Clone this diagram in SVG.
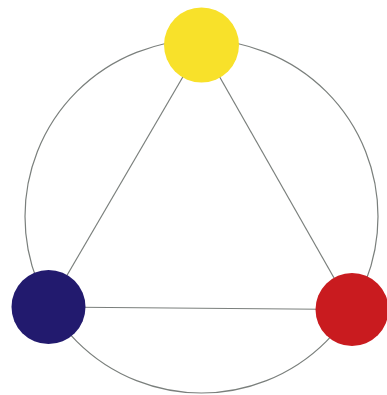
<svg xmlns="http://www.w3.org/2000/svg" width="387" height="395" viewBox="0 0 387 395">
<style>
.ln{stroke:#7a7f7c;stroke-width:1.2;fill:none}
</style>
<rect width="387" height="395" fill="#ffffff"/>
<g id="connectors">
<circle class="ln" cx="201.5" cy="216.5" r="176.5"/>
<line class="ln" x1="201.5" y1="45" x2="48.5" y2="307"/>
<line class="ln" x1="201.5" y1="45" x2="352" y2="309.5"/>
<line class="ln" x1="48.5" y1="307" x2="352" y2="309.5"/>
</g>
<g id="yellow"><circle cx="201.5" cy="45" r="37.5" fill="#f8e12a"/></g>
<g id="blue"><circle cx="48.5" cy="307" r="37" fill="#221a6e"/></g>
<g id="red"><circle cx="352" cy="309.5" r="36.5" fill="#c91b1f"/></g>
</svg>
